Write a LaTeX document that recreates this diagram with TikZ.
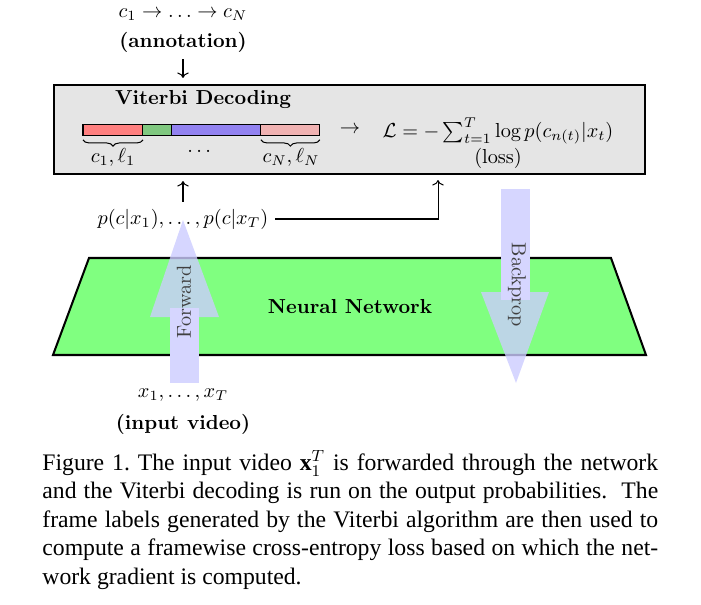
\documentclass[tikz,border=0pt]{standalone}
\usepackage{fontspec}
\newfontfamily\capfont{Liberation Serif}
\usepackage{amsmath}
\usepackage{xcolor}
\usepackage{tikz}
\usetikzlibrary{positioning,arrows.meta,decorations.pathreplacing,calc}

\definecolor{segred}{RGB}{255,128,128}
\definecolor{seggreen}{RGB}{128,200,128}
\definecolor{segblue}{RGB}{146,130,240}
\definecolor{segpink}{RGB}{240,178,178}
\definecolor{nngreen}{RGB}{128,255,128}

\begin{document}
\begin{tikzpicture}[x=0.4935pt, y=-0.4935pt,
    stagebox/.style={draw, line width=1pt, fill=black!10, minimum width=291.7pt,
        minimum height=43.9pt, inner sep=0pt},
    segbox/.style={draw, line width=0.5pt, minimum height=5.9pt,
        inner sep=0pt, outer sep=0pt},
    flow/.style={->, line width=0.5pt, shorten >=3pt},
    brc/.style={decorate, line width=0.5pt, decoration={brace, mirror, amplitude=3.1pt}},
    passhead/.style={fill=blue!20, fill opacity=0.8},
    passshaft/.style={fill=blue!16},
    passlbl/.style={text=black!75, inner sep=0pt},
]
\useasboundingbox (0,0) rectangle (701,604);

% Annotation on top
\node (seq) at (183,15) {$c_1 \rightarrow \ldots \rightarrow c_N$};
\node[font=\bfseries] (ann) at (183,42) {(annotation)};

% Viterbi stage
\node[stagebox] (vit) at (349.5,129.5) {};
\node[font=\bfseries] (vtitle) at (203,100) {Viterbi Decoding};
\node[segbox, fill=segred, minimum width=29.6pt, anchor=west] (s1) at (83,130) {};
\node[segbox, fill=seggreen, minimum width=14.3pt, right=0pt of s1] (s2) {};
\node[segbox, fill=segblue, minimum width=43.9pt, right=0pt of s2] (s3) {};
\node[segbox, fill=segpink, minimum width=29.1pt, right=0pt of s3] (s4) {};
\draw[brc] ([yshift=-1.9pt]s1.south west) -- ([yshift=-1.9pt]s1.south east);
\draw[brc] ([yshift=-1.9pt]s4.south west) -- ([yshift=-1.9pt]s4.south east);
\node (lab1) at (113,157) {$c_1,\ell_1$};
\node (labdots) at (201,152) {$\cdots$};
\node (labN) at (291,157) {$c_N,\ell_N$};
\node (to) at (350,130) {$\rightarrow$};
\node[align=center] (loss) at (498,143) {$\mathcal{L} = -\sum_{t=1}^{T} \log p(c_{n(t)}|x_t)$\\[1pt](loss)};

% Network outputs
\node[inner sep=3.2pt] (probs) at (183,219) {$p(c|x_1),\ldots,p(c|x_T)$};
\coordinate (lossin) at (438,174);

% Neural network
\draw[line width=1pt, fill=nngreen] (53,355) -- (89,258) -- (611,258) -- (646,355) -- cycle;
\node[font=\bfseries] (nn) at (350,307) {Neural Network};

% Forward / Backprop
\fill[passhead] (150,317) -- (183,220) -- (219,317) -- cycle;
\fill[passshaft] (170,308) rectangle (199,383);
\node[passlbl, rotate=90] (fwd) at (184,302) {Forward};
\fill[passhead] (481,292) -- (516,383) -- (549,292) -- cycle;
\fill[passshaft] (501,189) rectangle (530,300);
\node[passlbl, rotate=-90] (bwd) at (517,285) {Backprop};

% Input
\node (inp) at (183,395) {$x_1,\ldots,x_T$};
\node[font=\bfseries] (vid) at (183,424) {(input video)};

% Connectors
\draw[flow] (ann) -- (ann |- vit.north);
\draw[flow] (probs) -- (probs |- vit.south);
\draw[flow] (probs.east) -| (lossin);

% Caption
\node[anchor=north west, text width=303.9pt, align=justify, inner sep=0pt,
    font=\capfont\fontsize{11.69}{14.07}\selectfont] (cap) at (42,450)
    {Figure 1.\ The input video $\textbf{x}_1^T$ is forwarded through the network\linebreak
    and the Viterbi decoding is run on the output probabilities.\ \ The\linebreak
    frame labels generated by the Viterbi algorithm are then used to\linebreak
    compute a framewise cross-entropy loss based on which the net-\linebreak
    work gradient is computed.};
\end{tikzpicture}
\end{document}
